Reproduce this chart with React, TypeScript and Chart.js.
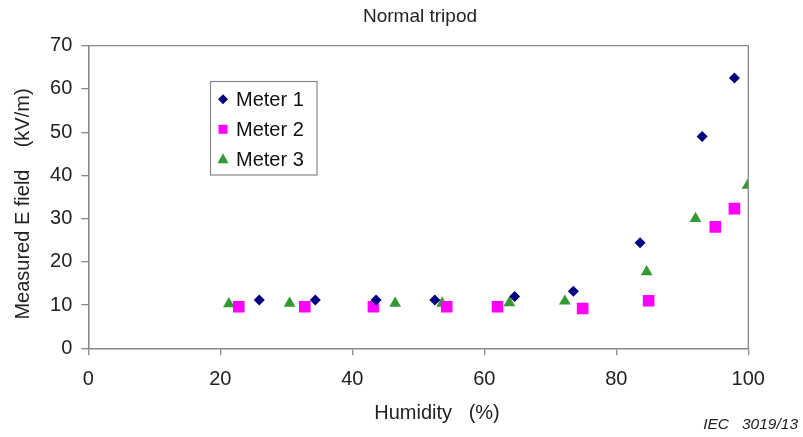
import React, { useEffect, useRef } from "react";
import { Chart, registerables } from "chart.js";

Chart.register(...registerables);

const chartTitle = "Normal tripod";
const xTitle = "Humidity   (%)";
const yTitle = "Measured E field    (kV/m)";
const note = "IEC   3019/13";
const seriesNames = ["Meter 1", "Meter 2", "Meter 3"];

const meter1X = [25.9, 34.4, 43.6, 52.5, 64.6, 73.5, 83.6, 93.0, 97.9];
const meter1Y = [11.2, 11.2, 11.2, 11.2, 12.0, 13.2, 24.4, 49.0, 62.5];
const meter2X = [22.8, 32.8, 43.2, 54.3, 62.0, 74.9, 84.9, 95.0, 97.9];
const meter2Y = [9.6, 9.6, 9.6, 9.6, 9.6, 9.2, 11.0, 28.1, 32.3];
const meter3X = [21.3, 30.5, 46.5, 53.6, 63.8, 72.2, 84.6, 92.0, 99.9];
const meter3Y = [10.3, 10.4, 10.4, 10.4, 10.5, 10.9, 17.7, 30.0, 37.7];

const xMin = 0, xMax = 100, xStep = 20;
const yMin = 0, yMax = 70, yStep = 10;

const colors = ["#000080", "#FF00FF", "#339933"];
const FONT = "'Liberation Sans', Arial, sans-serif";

const toPts = (xs: number[], ys: number[]) => xs.map((x, i) => ({ x, y: ys[i] }));

const overlay = {
  id: "overlay",
  afterDraw(chart: any) {
    const ctx = chart.ctx as CanvasRenderingContext2D;
    const a = chart.chartArea;
    ctx.save();
    // frame
    ctx.strokeStyle = "#888";
    ctx.lineWidth = 1.3;
    ctx.beginPath();
    ctx.moveTo(a.left, a.top);
    ctx.lineTo(a.right, a.top);
    ctx.lineTo(a.right, a.bottom);
    ctx.stroke();
    // title
    ctx.fillStyle = "#222";
    ctx.textAlign = "center";
    ctx.textBaseline = "middle";
    ctx.font = `19px ${FONT}`;
    ctx.fillText(chartTitle, 420, 17);
    // x title
    ctx.font = `20px ${FONT}`;
    ctx.fillText(xTitle, 437, 413);
    // y title
    ctx.save();
    ctx.translate(23, 204);
    ctx.rotate(-Math.PI / 2);
    ctx.fillText(yTitle, 0, 0);
    ctx.restore();
    // note
    ctx.font = `italic 15.5px ${FONT}`;
    ctx.textAlign = "right";
    ctx.fillText(note, 798, 425);
    // legend
    ctx.fillStyle = "#fff";
    ctx.fillRect(210.5, 81.5, 106.5, 93.5);
    ctx.strokeStyle = "#888";
    ctx.lineWidth = 1.2;
    ctx.strokeRect(210.5, 81.5, 106.5, 93.5);
    const ys = [99.3, 129.3, 159.3];
    const mx = 223;
    ctx.font = `20px ${FONT}`;
    ctx.textAlign = "left";
    seriesNames.forEach((name, i) => {
      const y = ys[i];
      ctx.fillStyle = colors[i];
      ctx.beginPath();
      if (i === 0) {
        const r = 5;
        ctx.moveTo(mx, y - r);
        ctx.lineTo(mx + r, y);
        ctx.lineTo(mx, y + r);
        ctx.lineTo(mx - r, y);
      } else if (i === 1) {
        ctx.rect(mx - 4.5, y - 4.5, 9, 9);
      } else {
        ctx.moveTo(mx, y - 6);
        ctx.lineTo(mx + 5.5, y + 4);
        ctx.lineTo(mx - 5.5, y + 4);
      }
      ctx.closePath();
      ctx.fill();
      ctx.fillStyle = "#111";
      ctx.fillText(name, 236, y + 1);
    });
    ctx.restore();
  },
};

export default function App() {
  const ref = useRef<HTMLCanvasElement | null>(null);
  useEffect(() => {
    if (!ref.current) return;
    const chart = new Chart(ref.current, {
      type: "scatter",
      data: {
        datasets: [
          {
            label: seriesNames[0],
            data: toPts(meter1X, meter1Y),
            pointStyle: "rectRot",
            radius: 5.5,
            backgroundColor: colors[0],
            borderColor: colors[0],
            borderWidth: 0,
          },
          {
            label: seriesNames[1],
            data: toPts(meter2X, meter2Y),
            pointStyle: "rect",
            radius: 8.2,
            backgroundColor: colors[1],
            borderColor: colors[1],
            borderWidth: 0,
          },
          {
            label: seriesNames[2],
            data: toPts(meter3X, meter3Y),
            pointStyle: "triangle",
            radius: 6.8,
            backgroundColor: colors[2],
            borderColor: colors[2],
            borderWidth: 0,
          },
        ],
      },
      options: {
        animation: false,
        responsive: true,
        maintainAspectRatio: false,
        layout: { padding: { left: 0, top: 45.7, right: 54.7, bottom: 0 } },
        plugins: {
          legend: { display: false },
          title: { display: false },
          tooltip: { enabled: false },
        },
        scales: {
          x: {
            type: "linear",
            min: xMin,
            max: xMax,
            afterFit: (s: any) => {
              s.height = 88.7;
            },
            ticks: {
              stepSize: xStep,
              font: { family: FONT, size: 20 },
              color: "#222",
              padding: 12,
            },
            grid: {
              drawOnChartArea: false,
              drawTicks: true,
              tickLength: 7,
              color: "#888",
              lineWidth: 1.3,
            },
            border: { color: "#888", width: 1.6 },
          },
          y: {
            type: "linear",
            min: yMin,
            max: yMax,
            afterFit: (s: any) => {
              s.width = 88.3;
            },
            ticks: {
              stepSize: yStep,
              font: { family: FONT, size: 20 },
              color: "#222",
              padding: 9,
            },
            grid: {
              drawOnChartArea: false,
              drawTicks: true,
              tickLength: 7,
              color: "#888",
              lineWidth: 1.3,
            },
            border: { color: "#888", width: 1.6 },
          },
        },
      },
      plugins: [overlay],
    });
    return () => chart.destroy();
  }, []);
  return (
    <div style={{ position: "fixed", left: 0, top: 0, width: 803, height: 437, background: "#fff" }}>
      <canvas ref={ref} />
    </div>
  );
}
